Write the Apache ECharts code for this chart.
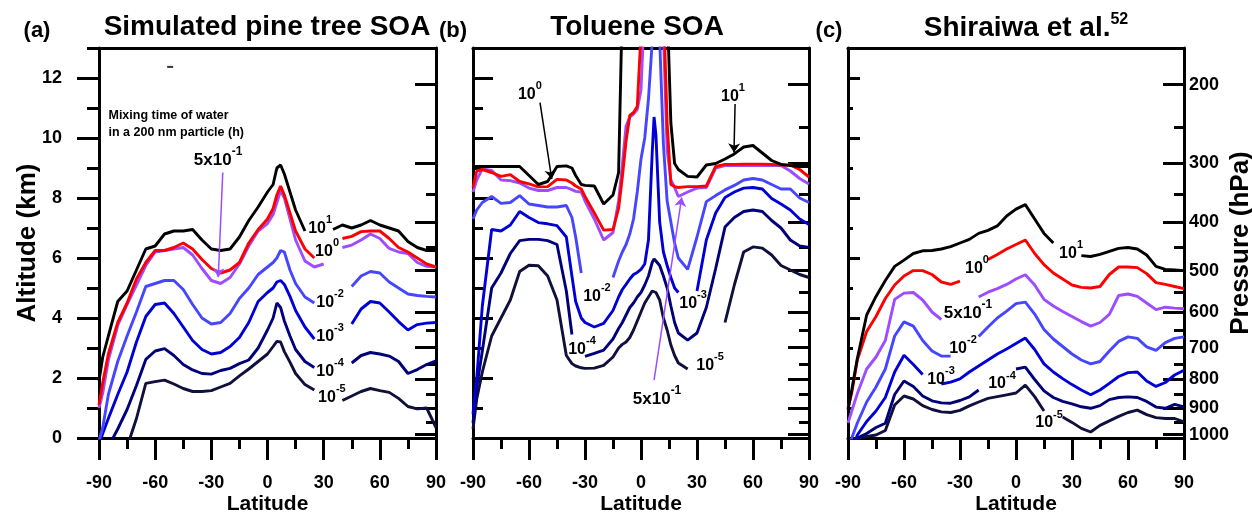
<!DOCTYPE html>
<html>
<head>
<meta charset="utf-8">
<script src="https://cdn.jsdelivr.net/npm/echarts@6.0.0/dist/echarts.min.js"></script>
<style>
  html, body { margin: 0; padding: 0; background: #fff; }
  #chart { width: 1252px; height: 512px; }
</style>
</head>
<body>
<div id="chart"></div>
<script>
// ---- axis ticks ----
const altMajor = [0, 2, 4, 6, 8, 10, 12];
const altMinor = [1, 3, 5, 7, 9, 11, 13];
const pressureMajor = [200, 300, 400, 500, 600, 700, 800, 900, 1000];
const pressureMinor = [250, 350, 450, 550, 650, 750, 850, 950];

// ---- (a) simulated pine tree SOA ----
const latA = [-90, -88, -85, -80, -75, -70, -65, -60, -55, -50, -45, -40, -35, -30, -25, -20, -15, -10, -5, 0,
  3, 5, 7, 9, 12, 15, 20, 25, 30, 35, 40, 45, 50, 55, 60, 65, 70, 75, 80, 85, 90];
const a_e1 = [1.9, 2.7, 3.4, 4.55, 4.9, 5.6, 6.3, 6.4, 6.8, 6.9, 6.9, 6.95, 6.6, 6.3, 6.25, 6.3, 6.7, 7.25, 7.7, 8.2,
  8.45, 9.0, 9.1, 8.8, 8.2, 7.6, 6.9, null, null, 6.95, 7.1, 7.0, 7.1, 7.25, 7.1, 7.0, 6.9, 6.55, 6.35, 6.25, 6.25];
const a_e0 = [1.1, 1.85, 2.8, 3.85, 4.5, 5.3, 5.85, 6.25, 6.25, 6.35, 6.5, 6.3, 5.95, 5.65, 5.5, 5.6, 5.85, 6.5, 6.95, 7.3,
  7.65, 8.1, 8.4, 8.1, 7.5, 6.9, 6.3, 6.0, null, null, 6.65, 6.72, 6.88, 6.9, 6.9, 6.65, 6.35, 6.2, 6.0, 5.8, 5.7];
const a_p = [1.0, 1.5, 2.6, 3.75, 4.45, 5.1, 5.75, 6.2, 6.25, 6.3, 6.35, 6.1, 5.65, 5.25, 5.15, 5.35, 5.8, 6.4, 6.9, 7.15,
  7.45, 7.85, 8.25, 8.0, 7.3, 6.6, 5.9, 5.7, 5.8, null, 6.35, 6.43, 6.6, 6.8, 6.65, 6.32, 6.2, 6.15, 5.85, 5.72, 5.7];
const a_e2 = [-0.1, 0.35, 1.45, 2.55, 3.4, 4.2, 5.05, 5.15, 5.25, 5.25, 4.95, 4.45, 4.0, 3.8, 3.85, 4.15, 4.65, 5.0, 5.45, 5.7,
  5.85, 6.0, 6.25, 6.2, 5.6, 5.15, 4.7, 4.5, null, null, null, 5.05, 5.4, 5.55, 5.5, 5.2, 5.0, 4.8, 4.75, 4.72, 4.7];
const a_e3 = [-0.2, 0.15, 0.65, 1.45, 2.2, 3.2, 4.05, 4.45, 4.5, 4.15, 3.7, 3.25, 2.95, 2.8, 2.85, 3.05, 3.35, 3.85, 4.55, 4.85,
  5.0, 5.2, 5.25, 5.12, 4.72, 4.25, 3.7, 3.3, null, null, null, 3.8, 4.3, 4.55, 4.5, 4.2, 3.88, 3.6, 3.78, 3.83, 3.85];
const a_e4 = [-1, -0.6, -0.3, 0.3, 0.95, 1.75, 2.62, 2.9, 2.98, 2.75, 2.45, 2.27, 2.15, 2.13, 2.25, 2.32, 2.48, 2.6, 3.0, 3.6,
  4.0, 4.5, 4.35, 3.9, 3.4, 2.95, 2.55, 2.35, null, null, null, 2.5, 2.75, 2.85, 2.8, 2.73, 2.55, 2.15, 2.28, 2.45, 2.57];
const a_e5 = [null, null, null, -1, -0.3, 0.65, 1.82, 1.88, 1.93, 1.8, 1.65, 1.55, 1.55, 1.58, 1.7, 1.82, 2.07, 2.3, 2.55, 2.8,
  3.05, 3.22, 3.2, 2.88, 2.53, 2.15, 1.78, 1.6, null, null, 1.25, 1.4, 1.55, 1.65, 1.58, 1.52, 1.32, 1.05, 0.97, 1.0, 0.35];

// ---- (b) toluene SOA ----
const latB = [-90, -88, -85, -80, -75, -70, -65, -60, -55, -50, -45, -40, -37, -35, -32, -30, -25, -20, -15, -12,
  -10, -8, -6, -4, -2, 0, 2, 4, 6, 7, 8, 10, 12, 14, 16, 18, 20, 25, 30, 35, 40, 45, 50, 55, 60, 65, 70, 75, 80, 85, 90];
const b_e1 = [9.05, 9.05, 9.05, 9.05, 9.05, 9.05, 9.05, 8.75, 8.45, 8.55, 9.05, 9.07, 9.0, 8.75, 8.45, 8.42, 8.4, 7.8, 8.1, 8.85,
  14.5, 14.5, 14.5, 14.5, 14.5, 14.5, 14.5, 14.5, 14.5, 14.5, 14.5, 14.5, 14.5, 14.5, 10.5, 9.15, 8.95, 8.72, 8.7, 9.1,
  9.15, 9.3, 9.47, 9.7, 9.75, 9.5, 9.25, 9.12, 9.08, 9.05, 9.05];
const b_e0 = [8.35, 8.9, 8.95, 8.85, 8.72, 8.78, 8.55, 8.47, 8.37, 8.38, 8.62, 8.6, 8.5, 8.4, 8.3, 8.05, 7.5, 6.93, 6.95, 7.65,
  8.7, 9.9, 10.75, 10.85, 11.05, 13.5, 14.5, 14.5, 14.5, 14.5, 14.5, 14.5, 14.5, 10.5, 8.45, 8.38, 8.35, 8.38, 8.38, 8.4,
  9.05, 9.12, 9.12, 9.13, 9.13, 9.13, 9.12, 9.1, 9.1, 8.95, 8.7];
const b_p = [8.2, 8.6, 8.97, 8.92, 8.6, 8.58, 8.5, 8.33, 8.25, 8.25, 8.35, 8.35, 8.28, 8.22, 8.2, 7.9, 7.3, 6.6, 6.85, 7.9,
  9.1, 10.4, 10.7, 10.8, 10.95, 11.6, 14.5, 14.5, 14.5, 14.5, 14.5, 14.5, 13.5, 9.6, 8.6, 8.35, 8.05, 8.2, 8.33, 8.35,
  9.0, 9.08, 9.08, 9.08, 9.08, 9.08, 9.08, 9.08, 8.9, 8.65, 8.47];
const b_e2 = [7.3, 7.6, 7.85, 8.05, 7.82, 7.85, 8.08, 7.8, 7.75, 7.7, 7.7, 7.75, 7.35, 6.7, 5.5, null, null, null, 5.35, 5.9,
  6.2, 6.45, 6.8, 7.3, 8.2, 9.3, 10.0, 11.3, 13.2, 14.5, 14.5, 13.3, 9.8, 7.9, 7.2, 6.5, 6.0, 5.62, 6.7, 7.88,
  8.08, 8.27, 8.42, 8.6, 8.65, 8.6, 8.45, 8.3, 8.3, 8.0, 7.85];
const b_e3 = [0.8, 2.0, 4.4, 6.95, 6.9, 7.1, 7.55, 7.35, 7.18, 7.14, 7.08, 6.7, 5.4, 4.55, 4.0, 3.85, 3.7, 3.82, 4.25, 4.7,
  4.95, 5.12, 5.3, 5.45, 5.52, 5.62, 5.8, 6.6, 9.5, 10.7, 10.1, 7.2, 6.2, 5.75, 5.35, 5.0, 4.85, null, 4.9, 6.6,
  7.5, 8.02, 8.2, 8.33, 8.35, 8.3, 7.98, 7.8, 7.6, 7.3, 7.12];
const b_e4 = [0.5, 1.7, 2.9, 5.0, 5.5, 6.15, 6.58, 6.62, 6.62, 6.58, 6.45, 4.9, 3.45, null, null, 2.72, 2.82, 2.93, 3.3, 3.65,
  3.85, 4.1, 4.35, 4.5, 4.7, 4.85, 5.1, 5.4, 5.85, 5.97, 5.9, 5.75, 5.4, 5.0, 4.4, 3.85, 3.5, 3.26, 3.5, 4.35,
  5.65, 7.03, 7.35, 7.55, 7.6, 7.55, 7.25, 7.0, 6.6, 6.4, 6.35];
const b_e5 = [0.3, 1.3, 2.2, 3.4, 4.0, 4.6, 5.55, 5.76, 5.74, 5.4, 4.6, 2.75, 2.48, 2.4, 2.34, 2.32, 2.33, 2.42, 2.7, 3.0,
  3.12, 3.2, 3.35, 3.6, 3.9, 4.2, 4.5, 4.7, 4.9, 4.92, 4.85, 4.6, 4.0, 3.6, 3.1, 2.75, 2.5, 2.3, null, null,
  null, 3.85, 5.1, 6.2, 6.37, 6.33, 6.1, 5.75, 5.6, 5.45, 5.35];

// ---- (c) Shiraiwa et al. ----
const latC = [-90, -88, -85, -80, -75, -70, -65, -60, -55, -50, -45, -40, -35, -30, -25, -20, -15, -10, -5, 0,
  5, 10, 15, 20, 25, 30, 35, 40, 45, 50, 55, 60, 65, 70, 75, 80, 85, 90];
const c_e1 = [0.95, 1.6, 2.65, 4.1, 4.72, 5.25, 5.72, 5.93, 6.15, 6.24, 6.25, 6.3, 6.38, 6.5, 6.62, 6.82, 6.92, 7.07, 7.4, 7.63,
  7.78, 7.3, 6.82, 6.5, null, null, 6.08, 6.05, 6.12, 6.22, 6.32, 6.35, 6.3, 6.1, 5.72, 5.62, 5.6, 5.58];
const c_e0 = [1.0, 1.5, 2.6, 3.55, 4.05, 4.65, 5.1, 5.4, 5.58, 5.58, 5.45, 5.2, 5.12, 5.23, null, null, 5.95, 6.12, 6.3, 6.45,
  6.6, 6.15, 5.78, 5.5, 5.3, 5.1, 5.02, 5.0, 5.05, 5.45, 5.7, 5.7, 5.68, 5.48, 5.18, 5.12, 5.05, 4.98];
const c_p = [0.5, 0.9, 1.48, 2.3, 2.7, 3.25, 4.62, 4.83, 4.85, 4.6, 4.2, 3.95, null, null, null, 4.7, 4.86, 4.98, 5.12, 5.3,
  5.44, 5.1, 4.62, 4.4, 4.22, 4.05, 3.88, 3.73, 3.85, 4.12, 4.75, 4.8, 4.72, 4.5, 4.28, 4.36, 4.33, 4.31];
const c_e2 = [-0.3, 0.0, 0.5, 1.2, 1.7, 2.3, 3.4, 3.87, 3.73, 3.25, 2.9, 2.73, 2.73, null, null, 3.38, 3.7, 4.0, 4.23, 4.48,
  4.53, 4.13, 3.62, 3.3, 3.05, 2.8, 2.6, 2.47, 2.55, 2.9, 3.22, 3.37, 3.32, 3.04, 2.92, 3.18, 3.32, 3.37];
const c_e3 = [-0.6, -0.4, 0.1, 0.55, 0.9, 1.35, 2.2, 2.76, 2.45, 2.12, null, 1.8, 1.86, 1.97, 2.2, 2.4, 2.6, 2.8, 2.97, 3.15,
  3.33, 2.95, 2.47, 2.2, 1.98, 1.78, 1.6, 1.44, 1.6, 1.82, 2.05, 2.18, 2.2, 1.9, 1.72, 1.85, 2.1, 2.26];
const c_e4 = [-0.8, -0.4, 0.0, 0.15, 0.35, 0.49, 1.45, 1.9, 1.72, 1.4, 1.24, 1.17, 1.16, 1.25, 1.37, 1.6, null, null, null, 2.3,
  2.36, 1.95, 1.57, 1.35, 1.22, 1.14, 1.04, 0.99, 1.08, 1.28, 1.35, 1.37, 1.35, 1.22, 1.03, 0.99, 1.12, 1.04];
const c_e5 = [null, -0.2, 0.0, 0.05, 0.1, 0.25, 1.1, 1.4, 1.3, 1.08, 0.95, 0.87, 0.85, 0.92, 1.07, 1.2, 1.32, 1.38, 1.44, 1.5,
  1.76, 1.38, 0.9, null, 0.7, 0.52, 0.32, 0.2, 0.42, 0.57, 0.72, 0.85, 0.93, 0.78, 0.68, 0.65, 0.65, 0.54];

// ---- contour labels [base, exponent, lat, alt, big] ----
const labelsA = [['10', '1', 28.1, 7.08], ['10', '0', 31.8, 6.32], ['10', '-2', 33.4, 4.62], ['10', '-3', 33.4, 3.49],
  ['10', '-4', 33.4, 2.33], ['10', '-5', 34.4, 1.46], ['5x10', '-1', -26.4, 9.37, true]];
const labelsB = [['10', '0', -59.5, 11.54], ['10', '1', 49.3, 11.47], ['10', '-2', -23.6, 4.82], ['10', '-3', 27.9, 4.59],
  ['10', '-4', -31.6, 3.06], ['10', '-5', 37, 2.53], ['5x10', '-1', 8.6, 1.4, true]];
const labelsC = [['10', '1', 29.5, 6.25], ['10', '0', -20.9, 5.75], ['5x10', '-1', -25.7, 4.26, true], ['10', '-2', -28.4, 3.09],
  ['10', '-3', -40.2, 2.06], ['10', '-4', -7.5, 1.9], ['10', '-5', 17.7, 0.6]];
// arrows [lat1, alt1, lat2, alt2, colour key]
const arrowsA = [[-23.9, 8.85, -26.3, 5.36, 'p']];
const arrowsB = [[-54.1, 11.18, -47.8, 8.63, 'e1'], [50.4, 11.13, 49.8, 9.52, 'e1'], [7, 1.93, 21.8, 8.02, 'p']];
const noteA = [-85.2, 10.46];
const dashA = [-52, 12.37];

const fontFam = '"Liberation Sans", Arial, Helvetica, sans-serif';
const colors = { e1: '#000000', e0: '#ff0000', p: '#9d4cff', e2: '#4646ff', e3: '#0000d6', e4: '#000078', e5: '#10103c' };
const order = ['e5', 'e4', 'e3', 'e2', 'p', 'e0', 'e1'];

function pToAlt(p) { return 44.331 * (1 - Math.pow(p / 1013.25, 0.1903)); }
const pAltMajor = pressureMajor.map(pToAlt);
const pAltMinor = pressureMinor.map(pToAlt);

const panels = [
  { left: 99, width: 337, lat: latA, lines: { e1: a_e1, e0: a_e0, p: a_p, e2: a_e2, e3: a_e3, e4: a_e4, e5: a_e5 },
    labels: labelsA, arrows: arrowsA, leftInside: false, leftMajor: 22, leftMinor: 12 },
  { left: 473, width: 336, lat: latB, lines: { e1: b_e1, e0: b_e0, p: b_p, e2: b_e2, e3: b_e3, e4: b_e4, e5: b_e5 },
    labels: labelsB, arrows: arrowsB, leftInside: true, leftMajor: 20, leftMinor: 10 },
  { left: 848, width: 336, lat: latC, lines: { e1: c_e1, e0: c_e0, p: c_p, e2: c_e2, e3: c_e3, e4: c_e4, e5: c_e5 },
    labels: labelsC, arrows: [], leftInside: true, leftMajor: 12, leftMinor: 5 }
];

const black = '#000';
const tickFont = { fontSize: 18, fontWeight: 'bold', fontFamily: fontFam, color: black };
const frame = { show: true, onZero: false, lineStyle: { color: black, width: 3 } };

const grids = [], xAxes = [], yAxes = [], series = [];

panels.forEach((pn, i) => {
  grids.push({ left: pn.left, top: 48, width: pn.width, height: 390, outerBoundsMode: 'none' });

  xAxes.push({
    type: 'value', gridIndex: i, position: 'bottom', min: -90, max: 90, interval: 30,
    axisLine: frame,
    axisTick: { inside: false, length: 22, lineStyle: { color: black, width: 3 } },
    minorTick: { show: true, splitNumber: 2, length: 11, lineStyle: { color: black, width: 3 } },
    axisLabel: Object.assign({ margin: 36 }, tickFont),
    splitLine: { show: false },
    name: 'Latitude', nameLocation: 'middle', nameGap: 56, nameMoveOverlap: false,
    nameTextStyle: { fontSize: 21, fontWeight: 'bold', fontFamily: fontFam, color: black }
  });
  xAxes.push({
    type: 'value', gridIndex: i, position: 'top', min: -90, max: 90,
    axisLine: frame, axisTick: { show: false }, axisLabel: { show: false }, splitLine: { show: false }
  });

  yAxes.push({
    type: 'value', gridIndex: i, position: 'left', min: 0, max: 13,
    axisLine: frame,
    axisTick: { customValues: altMajor, inside: pn.leftInside, length: pn.leftMajor, lineStyle: { color: black, width: 3 } },
    axisLabel: Object.assign({ show: i === 0, customValues: altMajor, margin: 37 }, tickFont),
    splitLine: { show: false },
    name: i === 0 ? 'Altitude (km)' : '', nameLocation: 'middle', nameRotate: 90, nameGap: 58, nameMoveOverlap: false,
    nameTextStyle: { fontSize: 26, fontWeight: 'bold', fontFamily: fontFam, color: black }
  });
  yAxes.push({
    type: 'value', gridIndex: i, position: 'left', min: 0, max: 13,
    axisLine: { show: false, onZero: false },
    axisTick: { customValues: altMinor, inside: pn.leftInside, length: pn.leftMinor, lineStyle: { color: black, width: 3 } },
    axisLabel: { show: false }, splitLine: { show: false }
  });
  yAxes.push({
    type: 'value', gridIndex: i, position: 'right', min: 0, max: 13,
    axisLine: frame,
    axisTick: { customValues: pAltMajor, inside: true, length: 21, lineStyle: { color: black, width: 3 } },
    axisLabel: Object.assign({
      show: i === 2, customValues: pAltMajor, margin: 5,
      formatter: v => {
        let best = 0;
        pAltMajor.forEach((a, k) => { if (Math.abs(a - v) < Math.abs(pAltMajor[best] - v)) best = k; });
        return String(pressureMajor[best]);
      }
    }, tickFont),
    splitLine: { show: false },
    name: i === 2 ? 'Pressure (hPa)' : '', nameLocation: 'middle', nameRotate: 90, nameGap: 44, nameMoveOverlap: false,
    nameTextStyle: { fontSize: 26, fontWeight: 'bold', fontFamily: fontFam, color: black }
  });
  yAxes.push({
    type: 'value', gridIndex: i, position: 'right', min: 0, max: 13,
    axisLine: { show: false, onZero: false },
    axisTick: { customValues: pAltMinor, inside: true, length: 10, lineStyle: { color: black, width: 3 } },
    axisLabel: { show: false }, splitLine: { show: false }
  });

  const xi = 2 * i, yi = 4 * i;
  order.forEach(k => {
    series.push({
      type: 'line', xAxisIndex: xi, yAxisIndex: yi, silent: true, animation: false,
      showSymbol: false, symbol: 'none', connectNulls: false, clip: true, z: 2,
      lineStyle: { color: colors[k], width: 2.9 },
      data: pn.lat.map((x, j) => [x, pn.lines[k][j] == null ? '-' : pn.lines[k][j]])
    });
  });

  series.push({
    type: 'scatter', xAxisIndex: xi, yAxisIndex: yi, silent: true, animation: false, z: 6,
    symbol: 'circle', symbolSize: 1, itemStyle: { color: '#ffffff', opacity: 1 },
    label: {
      show: true, position: 'inside', color: black, opacity: 1, textBorderWidth: 0,
      rich: {
        b: { fontSize: 16, fontWeight: 'bold', fontFamily: fontFam, color: black, lineHeight: 22, verticalAlign: 'bottom' },
        s: { fontSize: 11, fontWeight: 'bold', fontFamily: fontFam, color: black, lineHeight: 12, verticalAlign: 'top' },
        bb: { fontSize: 17, fontWeight: 'bold', fontFamily: fontFam, color: black, lineHeight: 23, verticalAlign: 'bottom' },
        ss: { fontSize: 12, fontWeight: 'bold', fontFamily: fontFam, color: black, lineHeight: 12, verticalAlign: 'top' }
      }
    },
    data: pn.labels.map(l => ({
      value: [l[2], l[3]],
      label: { formatter: l[4] ? `{bb|${l[0]}}{ss|${l[1]}}` : `{b|${l[0]}}{s|${l[1]}}` }
    }))
  });

  if (pn.arrows.length) {
    series.push({
      type: 'lines', coordinateSystem: 'cartesian2d', xAxisIndex: xi, yAxisIndex: yi, silent: true, animation: false, z: 5,
      symbol: ['none', 'arrow'], symbolSize: 9,
      lineStyle: { width: 1.5, opacity: 1 },
      data: pn.arrows.map(a => ({ coords: [[a[0], a[1]], [a[2], a[3]]], lineStyle: { color: colors[a[4]] } }))
    });
  }
});

// note text and stray dash in panel (a)
series.push({
  type: 'scatter', xAxisIndex: 0, yAxisIndex: 0, silent: true, animation: false, z: 6,
  symbol: 'circle', symbolSize: 1, itemStyle: { color: '#ffffff', opacity: 1 },
  label: {
    show: true, position: 'right', distance: 0, formatter: 'Mixing time of water\nin a 200 nm particle (h)',
    fontSize: 12.5, fontWeight: 'bold', fontFamily: fontFam, color: black, opacity: 1, textBorderWidth: 0, lineHeight: 17
  },
  data: [noteA]
});
series.push({
  type: 'scatter', xAxisIndex: 0, yAxisIndex: 0, silent: true, animation: false, z: 6,
  symbol: 'rect', symbolSize: [6, 2], itemStyle: { color: black }, data: [dashA]
});

const titleFont = s => `bold ${s}px ${fontFam}`;
const graphic = [
  { type: 'text', x: 37, y: 31, style: { text: '(a)', font: titleFont(22), fill: black, align: 'center', verticalAlign: 'middle', textAlign: 'center', textVerticalAlign: 'middle' } },
  { type: 'text', x: 267, y: 27, style: { text: 'Simulated pine tree SOA', font: titleFont(28), fill: black, align: 'center', verticalAlign: 'middle', textAlign: 'center', textVerticalAlign: 'middle' } },
  { type: 'text', x: 453, y: 31, style: { text: '(b)', font: titleFont(22), fill: black, align: 'center', verticalAlign: 'middle', textAlign: 'center', textVerticalAlign: 'middle' } },
  { type: 'text', x: 637, y: 27, style: { text: 'Toluene SOA', font: titleFont(28), fill: black, align: 'center', verticalAlign: 'middle', textAlign: 'center', textVerticalAlign: 'middle' } },
  { type: 'text', x: 829, y: 31, style: { text: '(c)', font: titleFont(22), fill: black, align: 'center', verticalAlign: 'middle', textAlign: 'center', textVerticalAlign: 'middle' } },
  { type: 'text', x: 1026, y: 27, style: {
      text: '{t|Shiraiwa et al.}{s|52}', fill: black, align: 'center', verticalAlign: 'middle', textAlign: 'center', textVerticalAlign: 'middle',
      rich: {
        t: { fontSize: 28, fontWeight: 'bold', fontFamily: fontFam, fill: black, lineHeight: 30, verticalAlign: 'bottom' },
        s: { fontSize: 16, fontWeight: 'bold', fontFamily: fontFam, fill: black, lineHeight: 16, verticalAlign: 'top' }
      } } }
];

const chart = echarts.init(document.getElementById('chart'), null, { renderer: 'canvas' });
chart.setOption({
  animation: false,
  backgroundColor: '#ffffff',
  grid: grids,
  xAxis: xAxes,
  yAxis: yAxes,
  series: series,
  graphic: graphic
});
</script>
</body>
</html>
